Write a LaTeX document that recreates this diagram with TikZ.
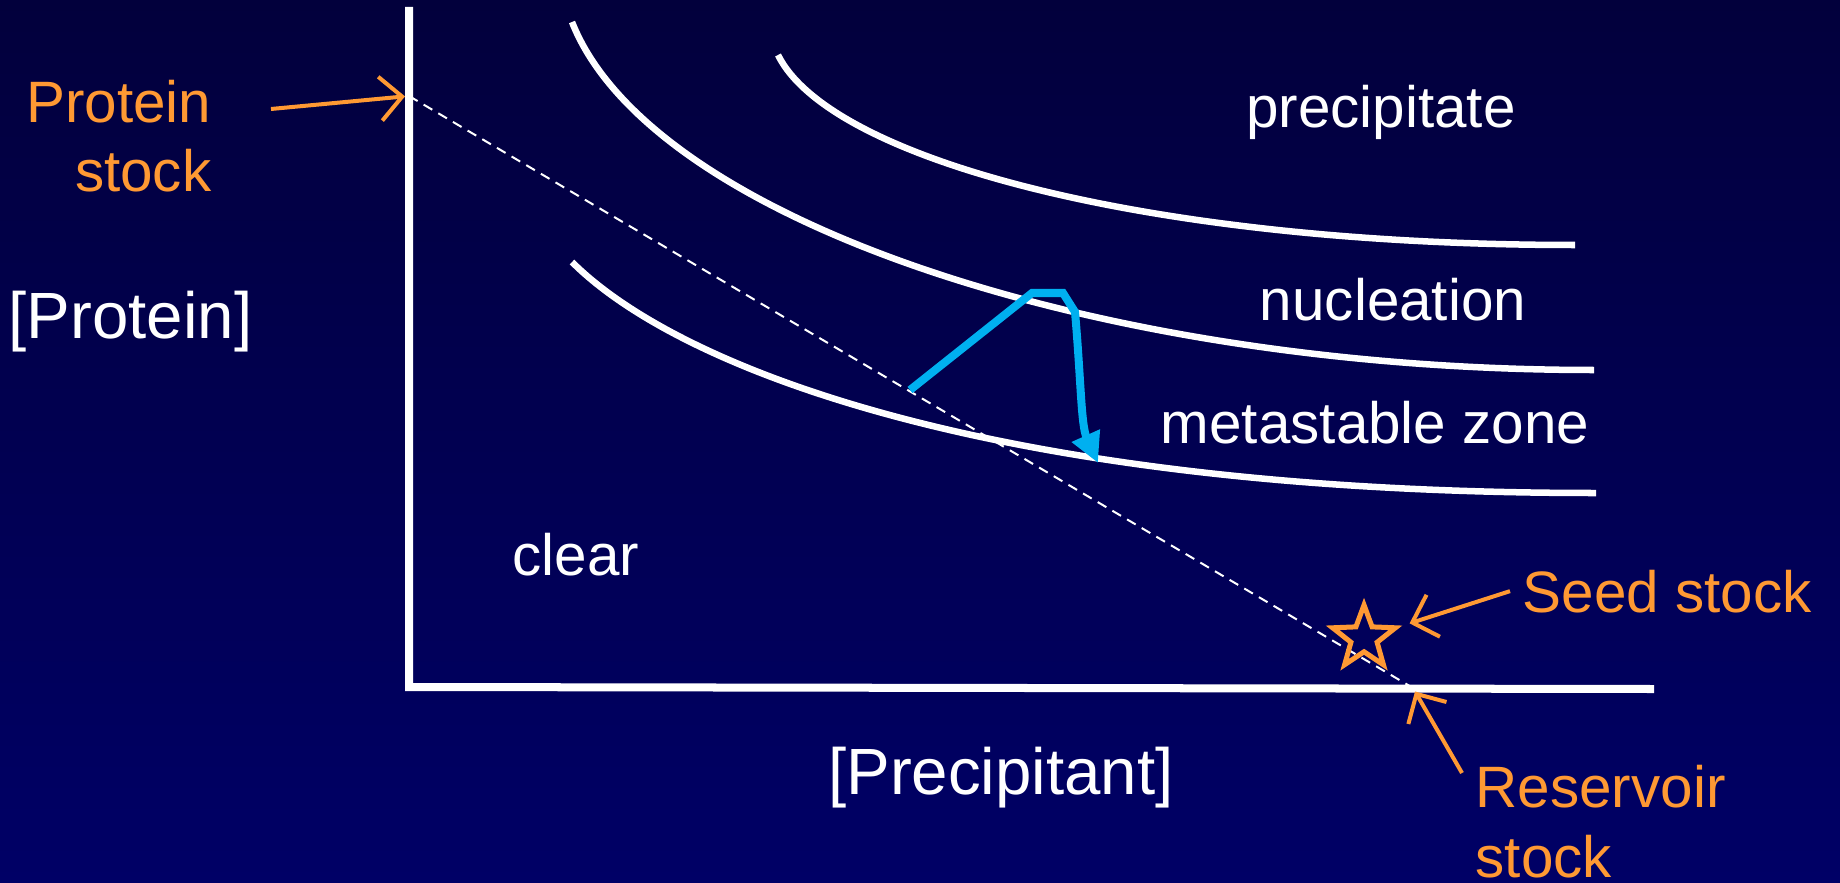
\documentclass[tikz,border=0pt]{standalone}
\usepackage{fontspec}
\setmainfont{Liberation Sans}
\usetikzlibrary{arrows.meta, shapes.geometric, positioning}
\definecolor{slideTop}{RGB}{2,0,60}
\definecolor{slideBot}{RGB}{0,0,102}
\definecolor{stockOrange}{HTML}{FF9933}
\definecolor{dropBlue}{HTML}{00B0F0}
\tikzset{
  % one unit is one pixel of the slide, y running downwards
  axisline/.style = {white, line width=0.08cm, line join=miter},
  boundary/.style = {white, line width=0.065cm},
  dilution/.style = {white, line width=0.02cm, dash pattern=on 0.1cm off 0.07cm},
  callout/.style  = {stockOrange, line width=0.04cm,
                     -{Straight Barb[length=2.2mm, width=4.4mm]}},
  route/.style    = {dropBlue, line width=0.08cm,
                     -{Triangle[length=3mm, width=2.9mm]}},
  zone/.style     = {white, font=\fontsize{16.6}{19.9}\selectfont, inner sep=0pt},
  stocklbl/.style = {stockOrange, font=\fontsize{16.6}{19.9}\selectfont, inner sep=0pt},
  axislbl/.style  = {white, font=\fontsize{18.6}{22}\selectfont, inner sep=0pt},
}

\begin{document}
\begin{tikzpicture}[x=0.01cm, y=-0.01cm,
    seedstar/.style={star, star points=5, star point ratio=2.4, draw=stockOrange,
                     line width=0.05cm, minimum size=0.66cm, inner sep=0pt}]
  \path[use as bounding box] (0,0) rectangle (1840,882);
  \shade[top color=slideTop, bottom color=slideBot] (0,0) rectangle (1840,882);
  % axes
  \draw[axisline] (409,7) -- (409,687) -- (1654,689);
  % stock points on the axes and the dilution line between them
  \coordinate (pstock) at (409,96);
  \coordinate (rstock) at (1413,688);
  \draw[dilution] (pstock) -- (rstock);
  % phase boundaries
  \draw[boundary] (778,55) .. controls (830,160) and (1150,245) .. (1575,245);
  \draw[boundary] (572,22) .. controls (650,220) and (1100,370) .. (1594,370);
  \draw[boundary] (572,262) .. controls (680,370) and (1000,493) .. (1596,493);
  % seeding route: into nucleation, back down to metastable
  \draw[route] (910,390) -- (1032,293) -- (1063,293) -- (1075,312)
      .. controls (1081,380) and (1081,425) .. (1098,463);
  % zone labels
  \node[zone, anchor=base] (precip) at (1381,128) {precipitate};
  \node[zone, anchor=base] (nucl) at (1393,320) {nucleation};
  \node[zone, anchor=base] (meta) at (1375,443) {metastable zone};
  \node[zone, anchor=base] (clear) at (576,575) {clear};
  % axis labels
  \node[axislbl, anchor=base west] (ylbl) at (8,338) {[Protein]};
  \node[axislbl, anchor=base] (xlbl) at (1001,794) {[Precipitant]};
  % seed star
  \node[seedstar] (seed) at (1364,638) {};
  % stock labels and their arrows
  \node[stocklbl, align=right, anchor=base east] (plbl) at (212,192) {Protein\\stock};
  \node[stocklbl, anchor=base west] (slbl) at (1522,612) {Seed stock};
  \node[stocklbl, align=left, anchor=base west] (rlbl) at (1475,877) {Reservoir\\stock};
  \coordinate (ptail) at (271,109);
  \coordinate (rtail) at (1462,773);
  \draw[callout, shorten >=0.04cm] (ptail) -- (pstock);
  \draw[callout, shorten >=0.08cm] ([xshift=-0.12cm]slbl.west) -- (seed);
  \draw[callout, shorten >=0.04cm] (rtail) -- (rstock);
\end{tikzpicture}
\end{document}
